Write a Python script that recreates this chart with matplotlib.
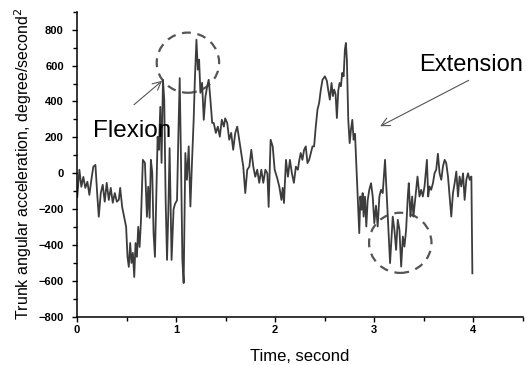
import matplotlib
matplotlib.use("Agg")
import matplotlib.pyplot as plt
from matplotlib.patches import Ellipse
from matplotlib.ticker import MultipleLocator

time_s = [
    0.003, 0.024, 0.044, 0.064, 0.084, 0.105, 0.125, 0.145, 0.165, 0.186,
    0.206, 0.22, 0.24, 0.26, 0.28, 0.30, 0.321, 0.341, 0.361, 0.382,
    0.402, 0.422, 0.436, 0.456, 0.476, 0.496, 0.51, 0.523, 0.537, 0.55,
    0.564, 0.578, 0.591, 0.605, 0.618, 0.632, 0.645, 0.665, 0.686, 0.706,
    0.719, 0.733, 0.746, 0.76, 0.773, 0.787, 0.80, 0.814, 0.827, 0.841,
    0.854, 0.868, 0.881, 0.895, 0.909, 0.922, 0.935, 0.955, 0.975, 0.99,
    1.01, 1.025, 1.037, 1.05, 1.064, 1.077, 1.094, 1.11, 1.128, 1.145,
    1.162, 1.178, 1.19, 1.206, 1.22, 1.233, 1.246, 1.263, 1.28, 1.297,
    1.314, 1.33, 1.347, 1.365, 1.381, 1.402, 1.422, 1.442, 1.462, 1.483,
    1.496, 1.517, 1.537, 1.557, 1.577, 1.598, 1.618, 1.638, 1.658, 1.679,
    1.699, 1.719, 1.74, 1.76, 1.78, 1.80, 1.82, 1.84, 1.861, 1.881,
    1.902, 1.922, 1.935, 1.955, 1.976, 1.996, 2.023, 2.043, 2.064, 2.077,
    2.09, 2.11, 2.13, 2.15, 2.17, 2.19, 2.21, 2.23, 2.245, 2.259,
    2.276, 2.293, 2.31, 2.327, 2.344, 2.361, 2.378, 2.394, 2.411, 2.428,
    2.445, 2.462, 2.479, 2.503, 2.523, 2.536, 2.553, 2.57, 2.584, 2.597,
    2.611, 2.624, 2.638, 2.651, 2.665, 2.678, 2.692, 2.705, 2.715, 2.725,
    2.739, 2.753, 2.766, 2.78, 2.793, 2.807, 2.82, 2.834, 2.85, 2.861,
    2.874, 2.884, 2.894, 2.908, 2.921, 2.935, 2.951, 2.969, 2.986, 3.002,
    3.019, 3.036, 3.053, 3.07, 3.087, 3.11, 3.138, 3.161, 3.188, 3.205,
    3.222, 3.239, 3.256, 3.273, 3.29, 3.306, 3.323, 3.34, 3.35, 3.367,
    3.384, 3.397, 3.418, 3.438, 3.458, 3.475, 3.492, 3.509, 3.533, 3.546,
    3.56, 3.576, 3.594, 3.61, 3.627, 3.644, 3.661, 3.678, 3.695, 3.712,
    3.728, 3.746, 3.762, 3.779, 3.796, 3.813, 3.83, 3.847, 3.863, 3.88,
    3.898, 3.914, 3.931, 3.948, 3.965, 3.982, 3.992,
]

acceleration = [
    -131, 20, -75, -20, -81, -47, -120, -36, 37, 47,
    -131, -242, -110, -64, -158, -53, -148, -81, -164, -110,
    -158, -148, -81, -187, -242, -298, -465, -521, -388, -499,
    -443, -577, -388, -465, -298, -410, -276, 75, 58, -242,
    -75, -248, 75, 3, -332, -465, -148, 203, 131, 370,
    58, 520, 410, -148, -482, -216, 140, -482, -200, -170,
    -150, 250, 530, 75, -482, -611, 113, -36, 150, -185,
    75, 298, 521, 744, 577, 633, 448, 504, 298, 427,
    483, 521, 410, 281, 280, 225, 260, 204, 298, 260,
    306, 280, 187, 225, 131, 225, 260, 187, 113, 37,
    -110, 20, 37, 131, 37, -19, 20, -53, 20, -53,
    20, 0, -187, 187, 150, 20, -30, -75, -148, -81,
    -165, 75, -19, 75, 0, -53, 37, 20, 75, 113,
    75, 131, 150, 57, 75, 113, 150, 150, 261, 354,
    392, 466, 521, 540, 515, 466, 410, 503, 430, 466,
    440, 308, 460, 503, 485, 559, 540, 689, 726, 633,
    298, 168, 242, 298, 187, 220, 57, -129, -333, -129,
    -203, -110, -241, -130, -296, -150, -92, -55, -130, -278,
    -180, -296, -129, -92, -110, 75, -241, -500, -241, -315,
    -426, -259, -315, -519, -352, -408, -315, -129, -55, -241,
    -129, -241, -129, -18, -129, -92, -129, -73, 75, -129,
    -73, -92, -55, 0, 20, 109, 0, -36, 38, 75,
    57, -18, -129, -241, -110, -55, 10, -129, -18, -73,
    0, -148, -36, 0, -36, -18, -557,
]

x_major = [0, 1, 2, 3, 4]
y_major = [-800, -600, -400, -200, 0, 200, 400, 600, 800]

plt.rcParams['font.family'] = ['Liberation Sans', 'DejaVu Sans']

fig = plt.figure(figsize=(5.27, 3.65), dpi=100)
ax = fig.add_axes([0.1461, 0.1315, 0.8457, 0.8365])

ax.plot(time_s, acceleration, color='#3c3c3c', lw=1.3)

ax.set_xlim(0, 4.5)
ax.set_ylim(-800, 900)
ax.set_xticks(x_major)
ax.set_yticks(y_major)
ax.xaxis.set_minor_locator(MultipleLocator(0.5))
ax.yaxis.set_minor_locator(MultipleLocator(100))

for s in ['top', 'right']:
    ax.spines[s].set_visible(False)
for s in ['left', 'bottom']:
    ax.spines[s].set_linewidth(1.1)

ax.tick_params(axis='both', which='major', length=3.5, width=1.0, labelsize=8)
ax.tick_params(axis='both', which='minor', length=3.0, width=1.0)
ax.tick_params(axis='y', which='major', pad=6)
ax.tick_params(axis='x', which='major', pad=2)
for lab in ax.get_xticklabels() + ax.get_yticklabels():
    lab.set_fontweight('bold')

ax.set_xlabel('Time, second', fontsize=12, labelpad=10)
ax.set_ylabel('Trunk angular acceleration, degree/second$^2$', fontsize=11.5, labelpad=3.5)

# dashed circles
for cx, cy in [(1.12, 616), (3.264, -387)]:
    e = Ellipse((cx, cy), width=0.63, height=335, fill=False,
                edgecolor='#555555', lw=1.6, linestyle=(0, (4, 3)))
    ax.add_patch(e)

ax.annotate('', xy=(0.881, 525), xytext=(0.554, 372),
            arrowprops=dict(arrowstyle='->,head_length=0.6,head_width=0.3',
                            color='#555555', lw=0.8))
ax.annotate('', xy=(3.036, 255), xytext=(3.98, 525),
            arrowprops=dict(arrowstyle='->,head_length=0.6,head_width=0.3',
                            color='#555555', lw=0.8))

ax.text(0.16, 203, 'Flexion', fontsize=17.5, color='black', ha='left', va='baseline')
ax.text(3.458, 567, 'Extension', fontsize=17, color='black', ha='left', va='baseline',
        clip_on=False)

fig.savefig('out.png', dpi=100)
